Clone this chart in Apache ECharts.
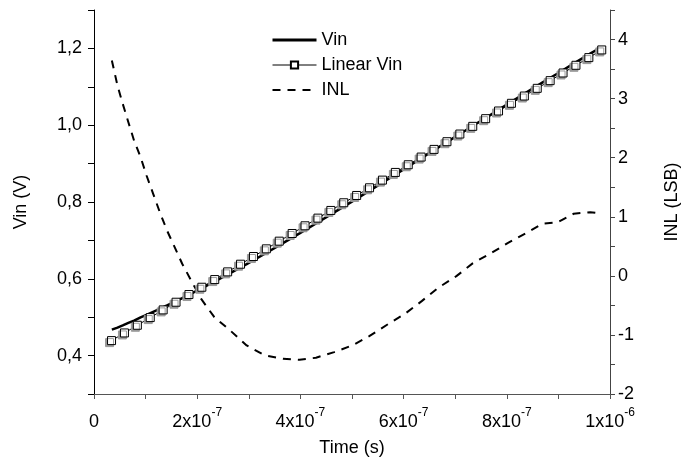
<!DOCTYPE html>
<html>
<head>
<meta charset="utf-8">
<script src="https://cdn.jsdelivr.net/npm/echarts@6/dist/echarts.min.js"></script>
<style>
  html, body { margin: 0; padding: 0; background: #fff; }
</style>
</head>
<body>
<div id="chart" style="width: 689px; height: 466px;"></div>
<script>
// 曲线采样时间 (s)
const tCurve = [3.46e-8, 4.55e-8, 5.57e-8, 6.66e-8, 7.76e-8, 9.03e-8, 1.018e-7, 1.147e-7, 1.275e-7, 1.415e-7,
  1.563e-7, 1.709e-7, 1.882e-7, 2.074e-7, 2.332e-7, 2.639e-7, 2.958e-7, 3.311e-7, 3.662e-7, 3.983e-7,
  4.302e-7, 4.655e-7, 5.006e-7, 5.327e-7, 5.712e-7, 6.03e-7, 6.351e-7, 6.672e-7, 7.023e-7, 7.344e-7,
  7.695e-7, 8.016e-7, 8.368e-7, 8.688e-7, 8.976e-7, 9.295e-7, 9.616e-7, 9.77e-7];
// Vin (V)
const vin = [0.4676, 0.4730, 0.4787, 0.4850, 0.4913, 0.4994, 0.5061, 0.5140, 0.5218, 0.5305,
  0.5401, 0.5497, 0.5612, 0.5741, 0.5923, 0.6150, 0.6384, 0.6653, 0.6928, 0.7183,
  0.7439, 0.7729, 0.8016, 0.8284, 0.8608, 0.8874, 0.9146, 0.9420, 0.9714, 0.9987,
  1.0280, 1.0548, 1.0842, 1.1109, 1.1340, 1.1605, 1.1863, 1.1985];
// INL (LSB)
const inl = [3.645, 3.222, 2.912, 2.601, 2.291, 2.009, 1.699, 1.389, 1.078, 0.768,
  0.486, 0.205, -0.078, -0.387, -0.699, -0.924, -1.178, -1.347, -1.403, -1.420,
  -1.386, -1.291, -1.178, -1.025, -0.810, -0.641, -0.428, -0.201, -0.005, 0.215,
  0.384, 0.553, 0.722, 0.881, 0.904, 1.051, 1.078, 1.061];
// Linear Vin 方块点
const tLinear = [3.4e-8, 5.9e-8, 8.4e-8, 1.09e-7, 1.34e-7, 1.59e-7, 1.84e-7, 2.09e-7, 2.34e-7, 2.59e-7,
  2.84e-7, 3.09e-7, 3.34e-7, 3.59e-7, 3.84e-7, 4.09e-7, 4.34e-7, 4.59e-7, 4.84e-7, 5.09e-7,
  5.34e-7, 5.59e-7, 5.84e-7, 6.09e-7, 6.34e-7, 6.59e-7, 6.84e-7, 7.09e-7, 7.34e-7, 7.59e-7,
  7.84e-7, 8.09e-7, 8.34e-7, 8.59e-7, 8.84e-7, 9.09e-7, 9.34e-7, 9.59e-7, 9.84e-7];
const vinLinear = [0.439, 0.459, 0.479, 0.499, 0.519, 0.539, 0.559, 0.578, 0.598, 0.618,
  0.638, 0.658, 0.678, 0.698, 0.718, 0.738, 0.758, 0.778, 0.798, 0.817,
  0.837, 0.857, 0.877, 0.897, 0.917, 0.937, 0.957, 0.977, 0.997, 1.017,
  1.037, 1.057, 1.076, 1.096, 1.116, 1.136, 1.156, 1.176, 1.196];
// 刻度标签
const xTickLabels = { 0: '{b|0}', 2: '{b|2x10}{sup|-7}', 4: '{b|4x10}{sup|-7}', 6: '{b|6x10}{sup|-7}', 8: '{b|8x10}{sup|-7}', 10: '{b|1x10}{sup|-6}' };
const leftTickLabels = ['0,4', '0,6', '0,8', '1,0', '1,2'];
const rightTickLabels = ['-2', '-1', '0', '1', '2', '3', '4'];

const font = 'Liberation Sans, Arial, sans-serif';
const zip = (a, b) => a.map((v, i) => [v, b[i]]);

let chart = echarts.init(document.getElementById('chart'));
chart.setOption({
  animation: false,
  textStyle: { fontFamily: font },
  grid: { left: 94, right: 74, top: 10, bottom: 72 },
  legend: {
    orient: 'vertical',
    left: 266,
    top: 26,
    itemWidth: 44,
    itemHeight: 9,
    itemGap: 7,
    textStyle: { fontFamily: font, fontSize: 18, color: '#000' },
    data: [
      { name: 'Vin', itemStyle: { opacity: 0 }, lineStyle: { width: 3 } },
      { name: 'Linear Vin', lineStyle: { width: 1, color: '#000' }, itemStyle: { shadowColor: 'rgba(0,0,0,0)', borderColor: '#000' } },
      { name: 'INL', itemStyle: { opacity: 0 } }
    ]
  },
  xAxis: {
    type: 'value',
    min: 0, max: 1e-6, interval: 1e-7,
    name: 'Time (s)', nameLocation: 'middle', nameGap: 45,
    nameTextStyle: { fontFamily: font, fontSize: 18, color: '#000' },
    axisLine: { onZero: false, lineStyle: { color: '#555', width: 1 } },
    axisTick: { length: 5, lineStyle: { color: '#555' } },
    splitLine: { show: false },
    axisLabel: {
      margin: 13,
      color: '#000',
      formatter: v => { const k = Math.round(v * 1e7); return xTickLabels[k] !== undefined ? xTickLabels[k] : ''; },
      rich: {
        b: { fontFamily: font, fontSize: 18, color: '#000', lineHeight: 24, verticalAlign: 'bottom' },
        sup: { fontFamily: font, fontSize: 12, color: '#000', lineHeight: 12, verticalAlign: 'top' }
      }
    }
  },
  yAxis: [
    {
      type: 'value', position: 'left',
      min: 0.3, max: 1.3, interval: 0.1,
      name: 'Vin (V)', nameLocation: 'middle', nameGap: 64, nameRotate: 90,
      nameTextStyle: { fontFamily: font, fontSize: 18, color: '#000' },
      axisLine: { show: true, onZero: false, lineStyle: { color: '#000' } },
      axisTick: { length: 6, lineStyle: { color: '#000' } },
      splitLine: { show: false },
      axisLabel: {
        margin: 12, color: '#000', fontFamily: font, fontSize: 18,
        formatter: v => { const k = Math.round(v * 10); return k % 2 === 0 ? leftTickLabels[(k - 4) / 2] : ''; }
      }
    },
    {
      type: 'value', position: 'right',
      min: -2, max: 4.5, interval: 0.5,
      name: 'INL (LSB)', nameLocation: 'middle', nameGap: 53, nameRotate: 90,
      nameTextStyle: { fontFamily: font, fontSize: 18, color: '#000' },
      axisLine: { show: true, onZero: false, lineStyle: { color: '#444' } },
      axisTick: { length: 5, lineStyle: { color: '#444' } },
      splitLine: { show: false },
      axisLabel: {
        margin: 8, color: '#000', fontFamily: font, fontSize: 18,
        formatter: v => { const k = Math.round(v * 2); return k % 2 === 0 ? rightTickLabels[k / 2 + 2] : ''; }
      }
    }
  ],
  series: [
    {
      name: 'Vin', type: 'line', yAxisIndex: 0,
      data: zip(tCurve, vin),
      showSymbol: false, symbol: 'none',
      lineStyle: { color: '#000', width: 2.5 },
      itemStyle: { color: '#000' },
      z: 2
    },
    {
      name: 'Linear Vin', type: 'line', yAxisIndex: 0,
      data: zip(tLinear, vinLinear),
      symbol: 'rect', symbolSize: 8,
      lineStyle: { color: '#000', width: 1 },
      itemStyle: {
        color: '#fff', borderColor: '#000', borderWidth: 1,
        shadowColor: '#999', shadowOffsetX: -2, shadowOffsetY: 2, shadowBlur: 0
      },
      z: 3
    },
    {
      name: 'INL', type: 'line', yAxisIndex: 1,
      data: zip(tCurve, inl),
      showSymbol: false, symbol: 'none',
      lineStyle: { color: '#000', width: 2, type: [8, 7] },
      itemStyle: { color: '#000' },
      z: 2
    }
  ]
});
</script>
</body>
</html>
